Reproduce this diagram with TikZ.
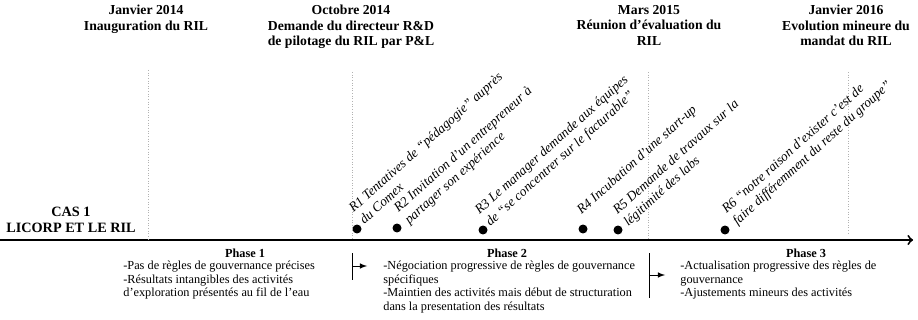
\documentclass[tikz,border=0pt]{standalone}
\usepackage{fontspec}
\setmainfont{Liberation Serif}
\usetikzlibrary{positioning}

\begin{document}
\begin{tikzpicture}[x=0.02cm, y=-0.02cm,
  datehead/.style={align=center, inner sep=0pt, anchor=north, font=\bfseries\fontsize{7.8}{8.8}\selectfont},
  evtdot/.style={circle, fill=black, inner sep=0pt, minimum size=0.18cm},
  evtlabel/.style={rotate=42, anchor=north west, align=left, inner sep=0pt, font=\itshape\fontsize{7.6}{9}\selectfont},
  phasehead/.style={inner sep=0pt, anchor=base, font=\bfseries\fontsize{7}{7.7}\selectfont},
  phasetext/.style={anchor=north west, align=left, inner sep=0pt, font=\fontsize{7}{7.7}\selectfont},
  dateline/.style={gray!60, densely dotted, line width=0.5pt}]
\useasboundingbox (0,0) rectangle (918,320);

% Dates (top)
\node[datehead] (d1) at (146,5) {Janvier 2014\\Inauguration du RIL};
\node[datehead] (d2) at (351,5) {Octobre 2014\\Demande du directeur R\&D\\de pilotage du RIL par P\&L};
\node[datehead] (d3) at (649,5) {Mars 2015\\Réunion d'évaluation du\\RIL};
\node[datehead] (d4) at (846,5) {Janvier 2016\\Evolution mineure du\\mandat du RIL};

% Axis
\coordinate (axstart) at (0,240);
\coordinate (axend) at (913,240);
\draw[line width=1.1pt, ->] (axstart) -- (axend);

% Date lines
\coordinate (l1) at (148,70);
\coordinate (l2) at (352,72);
\coordinate (l3) at (648,72);
\coordinate (l4) at (848,72);
\draw[dateline] (l1) -- (l1 |- axstart);
\draw[dateline] (l2) -- (l2 |- axstart);
\draw[dateline] (l3) -- (l3 |- axstart);
\draw[dateline] (l4) -- ([yshift=0.14cm]l4 |- axstart);

% Case
\node[datehead, anchor=center, font=\bfseries\fontsize{8.1}{9}\selectfont] (cas) at (71,220) {CAS 1\\LICORP ET LE RIL};

% Events
\node[evtdot] (r1) at (357,229) {};
\node[evtdot] (r2) at (397,228) {};
\node[evtdot] (r3) at (483,230) {};
\node[evtdot] (r4) at (583,229) {};
\node[evtdot] (r5) at (618,230) {};
\node[evtdot] (r6) at (725,230) {};

\node[evtlabel] (r1txt) at ([shift={(-10,-23)}]r1.center) {R1 Tentatives de ``pédagogie'' auprès\\du Comex};
\node[evtlabel] (r2txt) at ([shift={(-5,-22)}]r2.center) {R2 Invitation d'un entrepreneur à\\partager son expérience};
\node[evtlabel] (r3txt) at ([shift={(-10,-22)}]r3.center) {R3 Le manager demande aux équipes\\de ``se concentrer sur le facturable''};
\node[evtlabel] (r4txt) at ([shift={(-8,-21)}]r4.center) {R4 Incubation d'une start-up};
\node[evtlabel] (r5txt) at ([shift={(-7,-22)}]r5.center) {R5 Demande de travaux sur la\\légitimité des labs};
\node[evtlabel] (r6txt) at ([shift={(-5,-23)}]r6.center) {R6 ``notre raison d'exister c'est de\\faire différemment du reste du groupe''};

% Phases
\node[phasehead] (ph1) at (245,257) {Phase 1};
\node[phasehead] (ph2) at (507,257) {Phase 2};
\node[phasehead] (ph3) at (806,257) {Phase 3};

\node[phasetext] (ph1txt) at (123,261) {-Pas de règles de gouvernance précises\\-Résultats intangibles des activités\\d'exploration présentés au fil de l'eau};
\node[phasetext] (ph2txt) at (383,261) {-Négociation progressive de règles de gouvernance\\spécifiques\\-Maintien des activités mais début de structuration\\dans la presentation des résultats};
\node[phasetext] (ph3txt) at (680,261) {-Actualisation progressive des règles de\\gouvernance\\-Ajustements mineurs des activités};

% Phase changes
\coordinate (s1top) at (352,253);
\coordinate (s1bot) at (352,280);
\coordinate (s1tip) at (367,266);
\draw (s1top) -- (s1bot);
\draw[-latex] (s1top |- s1tip) -- (s1tip);

\coordinate (s2top) at (649,253);
\coordinate (s2bot) at (649,298);
\coordinate (s2tip) at (665,275);
\draw (s2top) -- (s2bot);
\draw[-latex] (s2top |- s2tip) -- (s2tip);
\end{tikzpicture}
\end{document}
